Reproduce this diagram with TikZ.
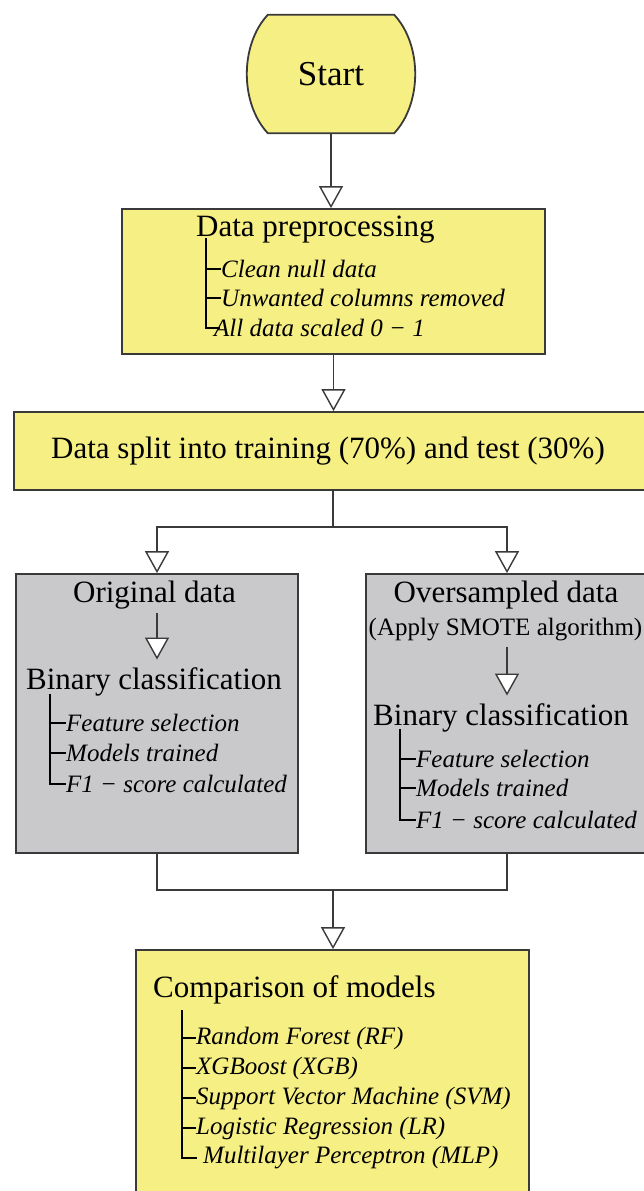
\documentclass[tikz,border=0pt]{standalone}
\usepackage{fontspec}
\setmainfont{Liberation Serif}
\usetikzlibrary{arrows.meta}
\definecolor{yel}{HTML}{F6EF84}
\definecolor{gry}{HTML}{C9C9CB}
\definecolor{bord}{HTML}{3A3A3A}
\newcommand\fR{\fontsize{31}{36}\selectfont}
\newcommand\fS{\fontsize{25}{30}\selectfont}
\newcommand\fI{\fontsize{25}{30}\selectfont\itshape}
\newcommand\fStart{\fontsize{35}{40}\selectfont}
\begin{document}
\begin{tikzpicture}[x=1pt,y=-1pt,
  box/.style={draw=bord, line width=1.8pt, inner sep=0pt, anchor=center},
  ybox/.style={box, fill=yel},
  gbox/.style={box, fill=gry},
  conn/.style={draw=bord, line width=1.5pt},
  arr/.style={conn, -{Triangle[length=22pt, width=24pt, fill=white, line width=1.4pt]}},
  tree/.style={draw=black, line width=1.4pt},
  ttl/.style={inner sep=0pt, font=\fR},
  itm/.style={inner sep=0pt, anchor=west, font=\fI}]
\clip (0,0) rectangle (644,1191);
\fill[white] (0,0) rectangle (644,1191);

% Start terminator
\node[minimum width=126pt, minimum height=118pt, inner sep=0pt] (start) at (331,74) {};
\draw[draw=bord, line width=1.8pt, fill=yel]
  (start.north west) -- (start.north east)
  .. controls +(28,30) and +(28,-30) .. (start.south east)
  -- (start.south west)
  .. controls +(-28,-30) and +(-28,30) .. (start.north west) -- cycle;
\node[inner sep=0pt, font=\fStart] (starttxt) at (start.center) {Start};

% Boxes
\node[ybox, minimum width=423pt, minimum height=145pt] (prep) at (333.5,281.5) {};
\node[ybox, minimum width=646pt, minimum height=78pt] (split) at (337,451) {};
\node[gbox, minimum width=282pt, minimum height=279pt] (orig) at (157,713.5) {};
\node[gbox, minimum width=282pt, minimum height=279pt] (over) at (507,713.5) {};
\node[ybox, minimum width=393pt, minimum height=290pt] (comp) at (332.5,1095) {};

% Preprocessing text
\node[ttl, anchor=west] (ptitle) at (196,230) {Data preprocessing};
\node[itm] (p1) at (221,269) {Clean null data};
\node[itm] (p2) at (221,298) {Unwanted columns removed};
\node[itm] (p3) at (214,328) {All data scaled 0 − 1};
\coordinate (pt) at (206,238);
\draw[tree] (pt) |- ([xshift=6pt]p3.west);
\draw[tree] (pt |- p1.west) -- (p1.west);
\draw[tree] (pt |- p2.west) -- (p2.west);

% Split text
\node[ttl] (stext) at (328,451) {Data split into training (70\%) and test (30\%)};

% Original data box
\node[ttl] (otitle) at (154.5,595) {Original data};
\node[ttl, anchor=west] (obin) at (26,682) {Binary classification};
\draw[arr, shorten <=4pt, shorten >=8pt] (otitle.south -| orig.center) -- (obin.north -| orig.center);
\node[itm] (o1) at (66,723) {Feature selection};
\node[itm] (o2) at (66,753) {Models trained};
\node[itm] (o3) at (66,784) {F1 − score calculated};
\coordinate (ot) at (50,694);
\draw[tree] (ot) |- (o3.west);
\draw[tree] (ot |- o1.west) -- (o1.west);
\draw[tree] (ot |- o2.west) -- (o2.west);

% Oversampled data box
\node[ttl] (vtitle) at (506,595) {Oversampled data};
\node[inner sep=0pt, font=\fS] (vsub) at (505.5,630) {(Apply SMOTE algorithm)};
\node[ttl, anchor=west] (vbin) at (373,718) {Binary classification};
\draw[arr, shorten <=5pt, shorten >=8pt] (vsub.south -| over.center) -- (vbin.north -| over.center);
\node[itm] (v1) at (416,759) {Feature selection};
\node[itm] (v2) at (416,788) {Models trained};
\node[itm] (v3) at (416,820) {F1 − score calculated};
\coordinate (vt) at (400,729);
\draw[tree] (vt) |- (v3.west);
\draw[tree] (vt |- v1.west) -- (v1.west);
\draw[tree] (vt |- v2.west) -- (v2.west);

% Comparison box
\node[ttl, anchor=west] (ctitle) at (153,990) {Comparison of models};
\node[itm] (c1) at (196,1038) {Random Forest (RF)};
\node[itm] (c2) at (196,1068) {XGBoost (XGB)};
\node[itm] (c3) at (196,1098) {Support Vector Machine (SVM)};
\node[itm] (c4) at (196,1128) {Logistic Regression (LR)};
\node[itm] (c5) at (203,1158) {Multilayer Perceptron (MLP)};
\coordinate (ct) at (182,1010);
\draw[tree] (ct) |- ([xshift=-6pt]c5.west);
\draw[tree] (ct |- c1.west) -- (c1.west);
\draw[tree] (ct |- c2.west) -- (c2.west);
\draw[tree] (ct |- c3.west) -- (c3.west);
\draw[tree] (ct |- c4.west) -- (c4.west);

% Connectors
\draw[arr] (start.south) -- (start.south |- prep.north);
\draw[arr] (prep.south) -- (prep.south |- split.north);
\coordinate (b1) at (333,527);
\draw[conn] (split.south -| b1) -- (b1);
\draw[arr] (b1) -| (orig.north);
\draw[arr] (b1) -| (over.north);
\coordinate (b2) at (333,890);
\draw[conn] (orig.south) |- (b2) -| (over.south);
\draw[arr] (b2) -- (b2 |- comp.north);
\end{tikzpicture}
\end{document}
